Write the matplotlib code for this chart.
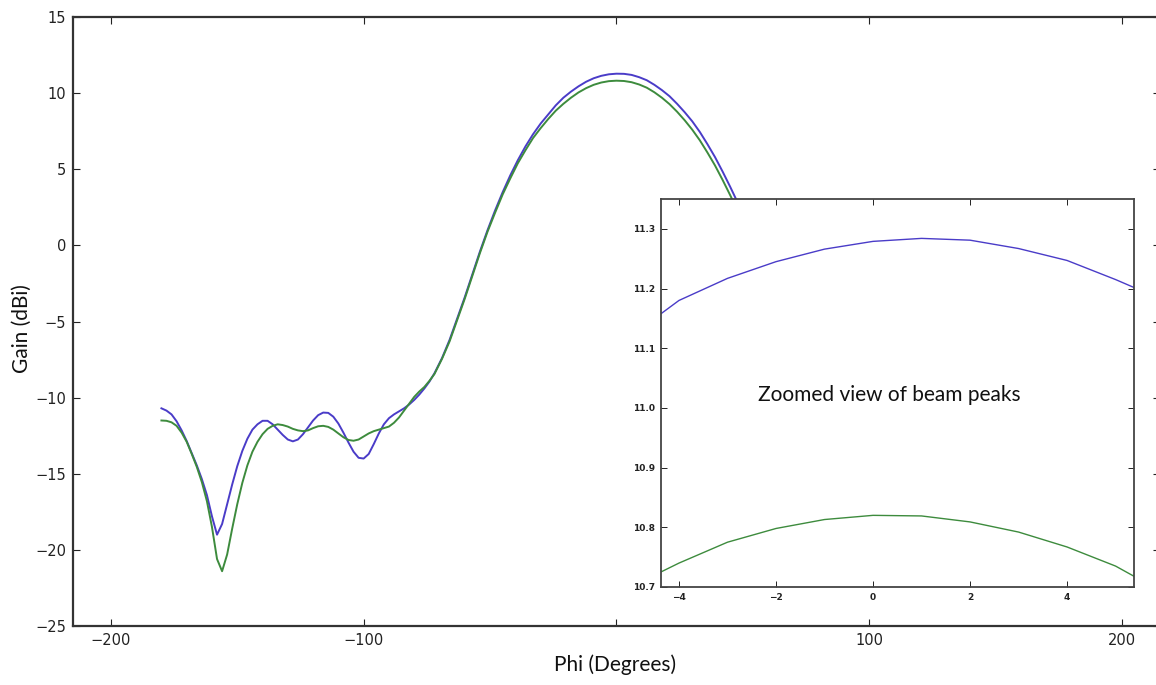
import numpy as np
import matplotlib
matplotlib.use("Agg")
import matplotlib.pyplot as plt

# main pattern: 2 degree steps through the sidelobes, 3 degree steps after
phi = np.concatenate([np.arange(-180, -71, 2), np.arange(-69, 181, 3)])

gain_blue = [
    # -180 .. -72 (step 2)
    -10.70, -10.85, -11.10, -11.55, -12.15, -12.85, -13.65, -14.45, -15.35, -16.4,
    -17.8, -19.0, -18.3, -17.0, -15.7, -14.5, -13.5, -12.7, -12.1, -11.75,
    -11.52, -11.52, -11.75, -12.1, -12.45, -12.75, -12.87, -12.75, -12.4, -11.95,
    -11.5, -11.15, -10.98, -11.0, -11.25, -11.7, -12.3, -12.95, -13.55, -13.95,
    -14.0, -13.7, -13.05, -12.35, -11.75, -11.35, -11.1, -10.9, -10.7, -10.45,
    -10.15, -9.8, -9.4, -8.95, -8.4,
    # -69 .. 180 (step 3)
    -7.4, -6.2, -4.8,
    -3.4, -1.9, -0.4, 1.0, 2.3, 3.5, 4.6, 5.6, 6.5, 7.3,
    8.0, 8.6, 9.2, 9.7, 10.1, 10.45, 10.75, 10.98, 11.14, 11.24,
    11.28, 11.27, 11.2, 11.05, 10.85, 10.55, 10.2, 9.8, 9.3, 8.75,
    8.15, 7.45, 6.65, 5.8, 4.85, 3.85, 2.8, 1.7, 0.5, -0.7,
    -2.0, -3.3, -4.6, -5.9, -7.0, -8.0, -8.8, -9.4, -9.8, -10.1,
    -10.4, -10.8, -11.3, -11.9, -12.5, -13.0, -13.2, -13.0, -12.6, -12.2,
    -12.0, -12.1, -12.5, -13.2, -14.2, -15.3, -16.2, -16.6, -16.2, -15.2,
    -14.0, -13.0, -12.2, -11.6, -11.2, -10.9, -10.7, -10.6, -10.6, -10.6,
    -10.7,
]

gain_green = [
    # -180 .. -72 (step 2)
    -11.50, -11.52, -11.62, -11.85, -12.3, -12.9, -13.7, -14.55, -15.55, -16.8,
    -18.5, -20.6, -21.4, -20.3, -18.6, -17.0, -15.6, -14.45, -13.55, -12.9,
    -12.4, -12.05, -11.85, -11.75, -11.8, -11.9, -12.05, -12.15, -12.2, -12.15,
    -12.0, -11.88, -11.85, -11.92, -12.1, -12.35, -12.6, -12.78, -12.83, -12.75,
    -12.55, -12.35, -12.2, -12.1, -12.0, -11.9, -11.65, -11.3, -10.85, -10.4,
    -9.95, -9.6, -9.3, -8.9, -8.45,
    # -69 .. 180 (step 3)
    -7.45, -6.3, -4.9,
    -3.5, -2.0, -0.5, 0.9, 2.15, 3.35, 4.4, 5.4, 6.25, 7.05,
    7.7, 8.3, 8.85, 9.3, 9.7, 10.05, 10.33, 10.55, 10.7, 10.79,
    10.82, 10.8, 10.72, 10.57, 10.36, 10.06, 9.7, 9.28, 8.78, 8.22,
    7.6, 6.9, 6.1, 5.25, 4.3, 3.3, 2.25, 1.15, 0.0, -1.2,
    -2.4, -3.6, -4.8, -6.0, -7.1, -8.0, -8.7, -9.2, -9.6, -10.0,
    -10.5, -11.0, -11.6, -12.2, -12.7, -12.9, -12.8, -12.5, -12.2, -12.0,
    -12.0, -12.2, -12.7, -13.6, -14.8, -16.2, -17.4, -17.9, -17.2, -15.8,
    -14.4, -13.3, -12.5, -12.0, -11.7, -11.5, -11.4, -11.4, -11.4, -11.45,
    -11.5,
]

# zoomed peak, 1 degree steps
phi_zoom = [-5, -4, -3, -2, -1, 0, 1, 2, 3, 4, 5, 6]
peak_blue = [11.12, 11.18, 11.217, 11.245, 11.266, 11.279, 11.284, 11.281,
             11.267, 11.247, 11.215, 11.18]
peak_green = [10.70, 10.74, 10.775, 10.798, 10.813, 10.82, 10.819, 10.809,
              10.792, 10.767, 10.735, 10.69]

xticks_main = [-200, -100, 0, 100, 200]
xticklabels_main = ["\u2212200", "\u2212100", "", "100", "200"]
yticks_main = [-25, -20, -15, -10, -5, 0, 5, 10, 15]

BLUE = "#4a3cc8"
GREEN = "#3d8b3d"
SPINE = "#333333"

fig = plt.figure(figsize=(11.56, 6.85), dpi=100)
fig.patch.set_facecolor("white")

ax = fig.add_axes([0.0631, 0.0861, 0.9403, 0.889])
ax.plot(phi, gain_blue, color=BLUE, lw=1.4)
ax.plot(phi, gain_green, color=GREEN, lw=1.4)
ax.set_xlim(-215, 215)
ax.set_ylim(-25, 15)
ax.set_xticks(xticks_main)
ax.set_xticklabels(xticklabels_main)
ax.set_yticks(yticks_main)
ax.set_yticklabels([str(v).replace("-", "\u2212") for v in yticks_main])
ax.tick_params(direction="in", length=5, width=0.8, top=True, right=True,
               labelsize=10.5, colors="#222222", pad=5)
for s in ax.spines.values():
    s.set_color(SPINE)
    s.set_linewidth(1.6)

fig.text(0.532, 0.029, "Phi (Degrees)", family="Lato", fontsize=15,
         ha="center", va="center", color="#111111")
fig.text(0.019, 0.52, "Gain (dBi)", family="Lato", fontsize=15,
         ha="center", va="center", rotation=90, color="#111111")

ins = fig.add_axes([0.5718, 0.1431, 0.4092, 0.5664])
ins.set_facecolor("white")
ins.plot(phi_zoom, peak_blue, color=BLUE, lw=1.0)
ins.plot(phi_zoom, peak_green, color=GREEN, lw=1.0)
ins.set_xlim(-4.37, 5.38)
ins.set_ylim(10.7, 11.35)
ins.set_xticks([-4, -2, 0, 2, 4])
ins.set_xticklabels(["\u22124", "\u22122", "0", "2", "4"])
ins.set_yticks([10.7, 10.8, 10.9, 11.0, 11.1, 11.2, 11.3])
ins.set_yticklabels(["10.7", "10.8", "10.9", "11.0", "11.1", "11.2", "11.3"])
ins.tick_params(direction="in", length=4, width=0.7, top=True, right=True,
                labelsize=6.5, colors="#222222", pad=4)
for lab in ins.get_xticklabels() + ins.get_yticklabels():
    lab.set_fontweight("bold")
for s in ins.spines.values():
    s.set_color("#444444")
    s.set_linewidth(1.3)
ins.text(0.482, 0.495, "Zoomed view of beam peaks", transform=ins.transAxes,
         family="Lato", fontsize=15, ha="center", va="center", color="#111111")

fig.savefig("out.png", dpi=100)
